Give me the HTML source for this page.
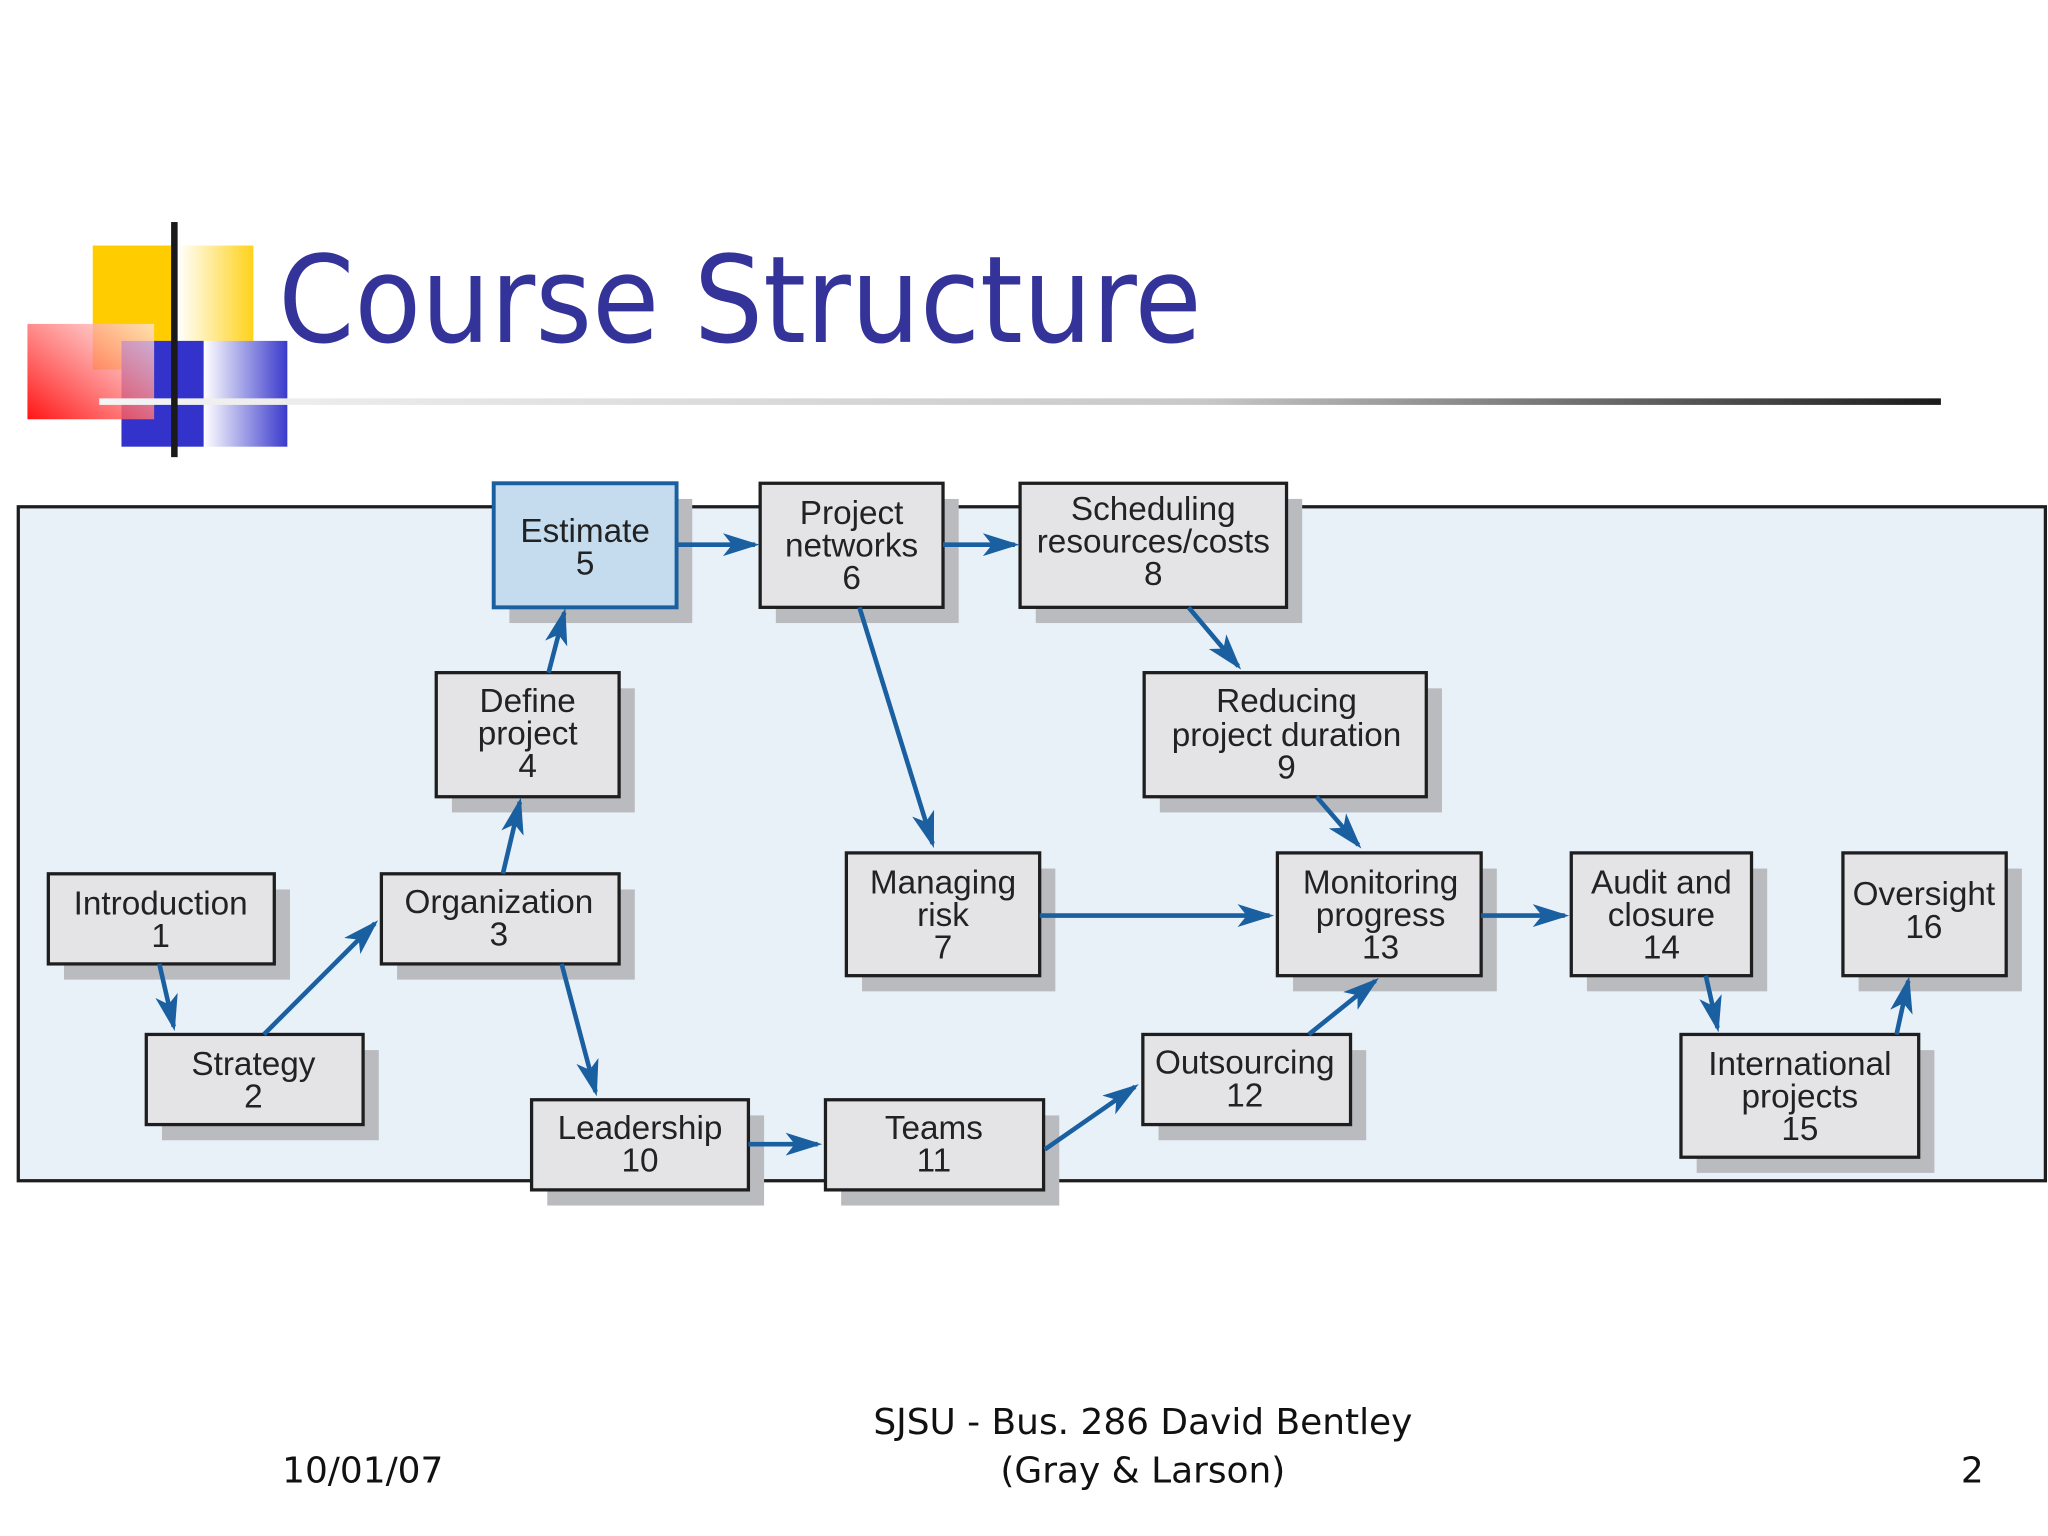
<!DOCTYPE html>
<html><head><meta charset="utf-8"><style>
html,body{margin:0;padding:0;background:#fff;}
svg{display:block;}
.b{fill:#e4e4e6;stroke:#1e1e1e;stroke-width:2.5;}
.s{fill:#b9bbbe;}
.t{font-family:"Liberation Sans Narrow","Liberation Sans",sans-serif;font-size:25.5px;fill:#222;text-anchor:middle;}
.a{stroke:#1a5fa0;stroke-width:3.5;fill:none;marker-end:url(#ah);}
.f{font-family:"DejaVu Sans","Liberation Sans",sans-serif;font-size:27.5px;fill:#111;}
</style></head><body>
<svg width="2048" height="1536" viewBox="0 0 1568 1176" xmlns="http://www.w3.org/2000/svg">
<defs>
<marker id="ah" markerWidth="8" markerHeight="5" refX="7" refY="2.5" orient="auto" markerUnits="strokeWidth">
<path d="M0,0 L8,2.5 L0,5 L2,2.5 Z" fill="#1a5fa0"/></marker>
<linearGradient id="yl" x1="0" x2="1"><stop offset="0" stop-color="#fff"/><stop offset="1" stop-color="#ffd21a"/></linearGradient>
<linearGradient id="bl" x1="0" x2="1"><stop offset="0" stop-color="#fff"/><stop offset="1" stop-color="#3a3acc"/></linearGradient>
<linearGradient id="rd" x1="0" y1="1" x2="1" y2="0"><stop offset="0" stop-color="#ff0000"/><stop offset="1" stop-color="#ffe8e8" stop-opacity="0.8"/></linearGradient>
<linearGradient id="ln" x1="0" x2="1"><stop offset="0" stop-color="#f4f4f4"/><stop offset="0.6" stop-color="#c8c8c8"/><stop offset="1" stop-color="#1a1a1a"/></linearGradient>
</defs>
<rect x="71" y="188" width="62" height="95" fill="#ffcc00"/>
<rect x="136" y="188" width="58" height="95" fill="url(#yl)"/>
<rect x="93" y="261" width="63" height="81" fill="#3333cc"/>
<rect x="156" y="261" width="64" height="81" fill="url(#bl)"/>
<rect x="21" y="248" width="97" height="73" fill="url(#rd)" opacity="0.92"/>
<rect x="76" y="305" width="1410" height="5" fill="url(#ln)"/>
<rect x="131" y="170" width="5" height="180" fill="#1a1a1a"/>
<text x="213" y="262" font-family="'DejaVu Sans','Liberation Sans',sans-serif" font-size="92" fill="#333399" textLength="707" lengthAdjust="spacingAndGlyphs">Course Structure</text>
<rect x="14" y="388" width="1552" height="516" fill="#e8f0f8" stroke="#1e1e1e" stroke-width="2.5"/>
<g>
<rect class="s" x="390" y="382" width="140" height="95"/><rect x="378" y="370" width="140" height="95" fill="#c4dcee" stroke="#1a5fa0" stroke-width="3"/>
<text class="t" x="448" y="415">Estimate</text><text class="t" x="448" y="440">5</text>

<rect class="s" x="594" y="382" width="140" height="95"/><rect class="b" x="582" y="370" width="140" height="95"/>
<text class="t" x="652" y="401">Project</text><text class="t" x="652" y="426">networks</text><text class="t" x="652" y="451">6</text>

<rect class="s" x="793" y="382" width="204" height="95"/><rect class="b" x="781" y="370" width="204" height="95"/>
<text class="t" x="883" y="398">Scheduling</text><text class="t" x="883" y="423">resources/costs</text><text class="t" x="883" y="448">8</text>

<rect class="s" x="346" y="527" width="140" height="95"/><rect class="b" x="334" y="515" width="140" height="95"/>
<text class="t" x="404" y="545">Define</text><text class="t" x="404" y="570">project</text><text class="t" x="404" y="595">4</text>

<rect class="s" x="888" y="527" width="216" height="95"/><rect class="b" x="876" y="515" width="216" height="95"/>
<text class="t" x="985" y="545">Reducing</text><text class="t" x="985" y="571">project duration</text><text class="t" x="985" y="596">9</text>

<rect class="s" x="49" y="681" width="173" height="69"/><rect class="b" x="37" y="669" width="173" height="69"/>
<text class="t" x="123" y="700">Introduction</text><text class="t" x="123" y="725">1</text>

<rect class="s" x="304" y="681" width="182" height="69"/><rect class="b" x="292" y="669" width="182" height="69"/>
<text class="t" x="382" y="699">Organization</text><text class="t" x="382" y="724">3</text>

<rect class="s" x="660" y="665" width="148" height="94"/><rect class="b" x="648" y="653" width="148" height="94"/>
<text class="t" x="722" y="684">Managing</text><text class="t" x="722" y="709">risk</text><text class="t" x="722" y="734">7</text>

<rect class="s" x="990" y="665" width="156" height="94"/><rect class="b" x="978" y="653" width="156" height="94"/>
<text class="t" x="1057" y="684">Monitoring</text><text class="t" x="1057" y="709">progress</text><text class="t" x="1057" y="734">13</text>

<rect class="s" x="1215" y="665" width="138" height="94"/><rect class="b" x="1203" y="653" width="138" height="94"/>
<text class="t" x="1272" y="684">Audit and</text><text class="t" x="1272" y="709">closure</text><text class="t" x="1272" y="734">14</text>

<rect class="s" x="1423" y="665" width="125" height="94"/><rect class="b" x="1411" y="653" width="125" height="94"/>
<text class="t" x="1473" y="693">Oversight</text><text class="t" x="1473" y="718">16</text>

<rect class="s" x="124" y="804" width="166" height="69"/><rect class="b" x="112" y="792" width="166" height="69"/>
<text class="t" x="194" y="823">Strategy</text><text class="t" x="194" y="848">2</text>

<rect class="s" x="887" y="804" width="159" height="69"/><rect class="b" x="875" y="792" width="159" height="69"/>
<text class="t" x="953" y="822">Outsourcing</text><text class="t" x="953" y="847">12</text>

<rect class="s" x="1299" y="804" width="182" height="94"/><rect class="b" x="1287" y="792" width="182" height="94"/>
<text class="t" x="1378" y="823">International</text><text class="t" x="1378" y="848">projects</text><text class="t" x="1378" y="873">15</text>

<rect class="s" x="419" y="854" width="166" height="69"/><rect class="b" x="407" y="842" width="166" height="69"/>
<text class="t" x="490" y="872">Leadership</text><text class="t" x="490" y="897">10</text>

<rect class="s" x="644" y="854" width="167" height="69"/><rect class="b" x="632" y="842" width="167" height="69"/>
<text class="t" x="715" y="872">Teams</text><text class="t" x="715" y="897">11</text>
</g>
<g>
<line class="a" x1="518" y1="417" x2="578" y2="417"/>
<line class="a" x1="722" y1="417" x2="777" y2="417"/>
<line class="a" x1="910" y1="465" x2="948" y2="510"/>
<line class="a" x1="658" y1="465" x2="714" y2="646"/>
<line class="a" x1="420" y1="515" x2="432" y2="469"/>
<line class="a" x1="385" y1="669" x2="398" y2="614"/>
<line class="a" x1="122" y1="738" x2="133" y2="786"/>
<line class="a" x1="202" y1="792" x2="287" y2="707"/>
<line class="a" x1="430" y1="738" x2="456" y2="836"/>
<line class="a" x1="573" y1="876" x2="626" y2="876"/>
<line class="a" x1="800" y1="880" x2="869" y2="832"/>
<line class="a" x1="1002" y1="792" x2="1053" y2="751"/>
<line class="a" x1="1008" y1="610" x2="1040" y2="647"/>
<line class="a" x1="796" y1="701" x2="972" y2="701"/>
<line class="a" x1="1134" y1="701" x2="1198" y2="701"/>
<line class="a" x1="1306" y1="747" x2="1315" y2="787"/>
<line class="a" x1="1452" y1="792" x2="1461" y2="751"/>
</g>
<text class="f" x="216" y="1135">10/01/07</text>
<text class="f" x="875" y="1098" text-anchor="middle">SJSU - Bus. 286 David Bentley</text>
<text class="f" x="875" y="1135" text-anchor="middle">(Gray &amp; Larson)</text>
<text class="f" x="1510" y="1135" text-anchor="middle">2</text>
</svg>
</body></html>
